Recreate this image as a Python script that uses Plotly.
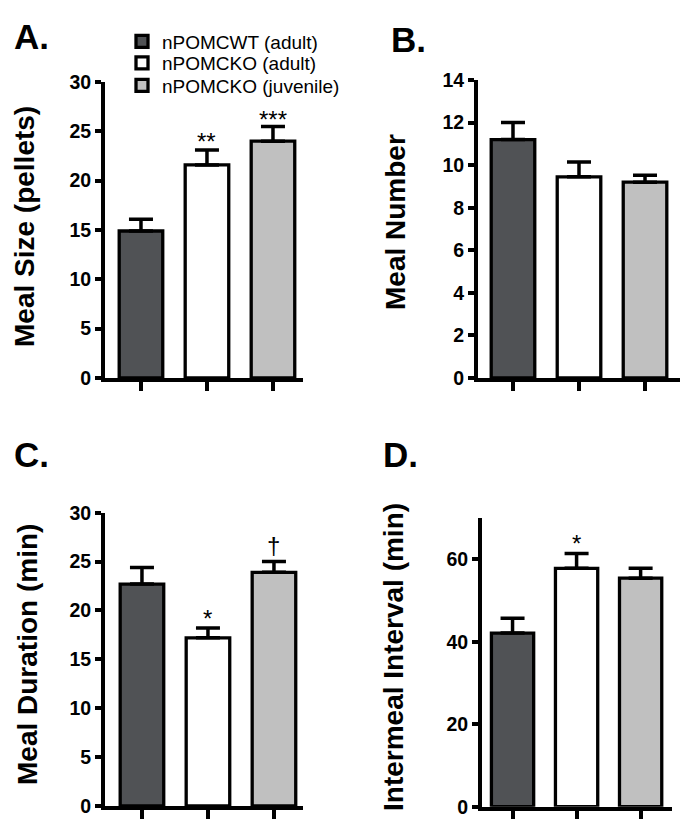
import plotly.graph_objects as go

# page body has an 8px default margin; positions below are given in
# reference-picture pixels and converted through OFF
OFF = 8
W, H = 680, 811

groups = ["nPOMCWT (adult)", "nPOMCKO (adult)", "nPOMCKO (juvenile)"]
colors = ["#505255", "#ffffff", "#c0c0c0"]

meal_size = [14.9, 21.6, 24.0]
meal_size_err = [1.2, 1.5, 1.5]
meal_number = [11.2, 9.45, 9.2]
meal_number_err = [0.8, 0.7, 0.33]
meal_duration = [22.7, 17.2, 23.9]
meal_duration_err = [1.7, 1.0, 1.1]
intermeal = [42.1, 57.8, 55.4]
intermeal_err = [3.6, 3.6, 2.4]

panel_letters = ["A.", "B.", "C.", "D."]
y_titles = ["Meal Size (pellets)", "Meal Number", "Meal Duration (min)", "Intermeal Interval (min)"]
y_ranges = [[0, 30], [0, 14], [0, 30], [0, 70]]
y_ticks = [[0, 5, 10, 15, 20, 25, 30], [0, 2, 4, 6, 8, 10, 12, 14],
           [0, 5, 10, 15, 20, 25, 30], [0, 20, 40, 60]]
# significance marks: (panel, group index, text)
sig_marks = [(0, 1, "**"), (0, 2, "***"), (2, 1, "*"), (2, 2, "†"), (3, 1, "*")]

values = [meal_size, meal_number, meal_duration, intermeal]
errors = [meal_size_err, meal_number_err, meal_duration_err, intermeal_err]

FONT = "Arial, Liberation Sans, Helvetica, sans-serif"


def fx(px):
    return (px - OFF) / W


def fy(py):
    return 1 - (py - OFF) / H


# layout geometry (reference pixels)
x_px = [(105, 303), (478, 680), (105, 303), (482, 672)]
y_px = [(82, 378), (80, 378), (512.7, 806), (518, 806.7)]
x_rng = [[-0.545, 2.455], [-0.53, 2.53], [-0.56, 2.44], [-0.477, 2.49]]
title_pos = [(24, 227), (396, 222), (27, 655), (393, 657)]
letter_pos = [(12, 37), (389, 40), (12, 454), (381, 454)]
legend_rows = [41.5, 63, 85.5]
legend_names = ["legend", "legend2", "legend3"]
sig_shift = {"**": 9, "***": 7, "*": 10, "†": 16}

fig = go.Figure()
for p in range(4):
    xa = "x" if p == 0 else f"x{p+1}"
    ya = "y" if p == 0 else f"y{p+1}"
    for g in range(3):
        fig.add_trace(go.Bar(
            x=[g], y=[values[p][g]], name=groups[g],
            xaxis=xa, yaxis=ya, width=0.66,
            marker=dict(color=colors[g], line=dict(color="black", width=3.3)),
            error_y=dict(type="data", array=[errors[p][g]], arrayminus=[0],
                         symmetric=False, thickness=3.5, width=12, color="black"),
            showlegend=(p == 0), legendgroup=groups[g], legend=legend_names[g],
        ))

layout = dict(
    width=W, height=H, margin=dict(l=0, r=0, t=0, b=0, autoexpand=False),
    paper_bgcolor="white", plot_bgcolor="white",
    barmode="overlay", font=dict(family=FONT, color="black"),
    showlegend=True,
)
for g in range(3):
    layout[legend_names[g]] = dict(
        x=fx(122), y=fy(legend_rows[g]), xanchor="left", yanchor="middle",
        bgcolor="rgba(0,0,0,0)", font=dict(size=19, family=FONT),
        itemclick=False, itemdoubleclick=False,
    )

annotations = []
for p in range(4):
    xk = "xaxis" if p == 0 else f"xaxis{p+1}"
    yk = "yaxis" if p == 0 else f"yaxis{p+1}"
    yanchor_name = "y" if p == 0 else f"y{p+1}"
    xanchor_name = "x" if p == 0 else f"x{p+1}"
    layout[xk] = dict(
        domain=[fx(x_px[p][0]), fx(x_px[p][1])], range=x_rng[p],
        anchor=yanchor_name, showline=True, linewidth=4, linecolor="black",
        tickvals=[0, 1, 2], ticktext=["", "", ""], ticks="outside",
        ticklen=9, tickwidth=3.5, tickcolor="black", showgrid=False,
        zeroline=False, showticklabels=False, fixedrange=True, automargin=False,
    )
    layout[yk] = dict(
        domain=[fy(y_px[p][1]), fy(y_px[p][0])], range=y_ranges[p],
        anchor=xanchor_name, showline=True, linewidth=4, linecolor="black",
        tickvals=y_ticks[p], ticktext=[f"<b>{v}</b>" for v in y_ticks[p]],
        ticks="outside", ticklen=6, tickwidth=3.5,
        tickcolor="black", showgrid=False, zeroline=False,
        tickfont=dict(size=19.5, family=FONT), fixedrange=True, automargin=False,
    )
    annotations.append(dict(
        text=f"<b>{y_titles[p]}</b>", textangle=-90, xref="paper", yref="paper",
        x=fx(title_pos[p][0]), y=fy(title_pos[p][1]),
        xanchor="center", yanchor="middle", showarrow=False,
        font=dict(size=28, family=FONT),
    ))
    annotations.append(dict(
        text=f"<b>{panel_letters[p]}</b>", xref="paper", yref="paper",
        x=fx(letter_pos[p][0]), y=fy(letter_pos[p][1]),
        xanchor="left", yanchor="middle", showarrow=False,
        font=dict(size=35, family=FONT),
    ))

for (p, g, txt) in sig_marks:
    xr = "x" if p == 0 else f"x{p+1}"
    yr = "y" if p == 0 else f"y{p+1}"
    annotations.append(dict(
        text=txt, xref=xr, yref=yr, x=g, y=values[p][g] + errors[p][g],
        xanchor="center", yanchor="middle", yshift=sig_shift[txt],
        showarrow=False, font=dict(size=24, family=FONT),
    ))

layout["annotations"] = annotations
fig.update_layout(**layout)
fig.write_html("out.html")
